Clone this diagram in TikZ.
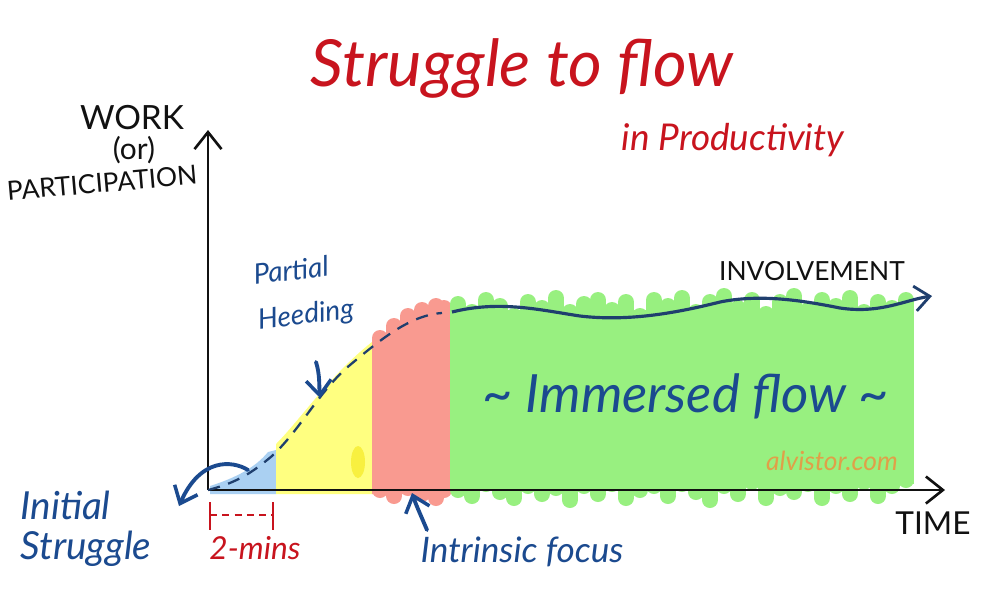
\documentclass[tikz,border=0pt]{standalone}
\usepackage{fontspec}
\setmainfont{Lato}
\usetikzlibrary{arrows.meta}
\definecolor{sgfInk}{HTML}{111111}
\definecolor{sgfNavy}{HTML}{1B4A8F}
\definecolor{sgfFlowLine}{HTML}{1F3F6E}
\definecolor{sgfRed}{HTML}{C8141E}
\definecolor{sgfOrange}{HTML}{E0A048}
\definecolor{sgfGreen}{HTML}{98F080}
\definecolor{sgfSalmon}{HTML}{F99A90}
\definecolor{sgfYellow}{HTML}{FFFF80}
\definecolor{sgfYellowDeep}{HTML}{F8F040}
\definecolor{sgfSky}{HTML}{AAD0F2}
\tikzset{
  sgfAxis/.style={
    draw=sgfInk,
    line width=1.6pt,
    -{Straight Barb[length=3.4mm,width=5.4mm,line width=1.5pt]}
  },
  sgfCaps/.style={
    text=sgfInk,
    font=\fontsize{15}{17}\selectfont
  },
  sgfNote/.style={
    text=sgfNavy,
    font=\itshape\fontsize{22}{23}\selectfont,
    align=left,
    inner sep=1pt
  },
  sgfRedText/.style={
    text=sgfRed,
    font=\itshape\fontsize{18}{20}\selectfont
  },
  sgfPoint/.style={
    draw=sgfNavy,
    line width=2.2pt,
    line cap=round,
    -{Straight Barb[length=3mm,width=5mm,line width=2pt]}
  },
  sgfDash/.style={
    draw=sgfFlowLine,
    line width=1.3pt,
    dash pattern=on 7pt off 5pt
  },
  sgfFlow/.style={
    draw=sgfFlowLine,
    line width=1.8pt,
    -{Straight Barb[length=3mm,width=5mm,line width=1.6pt]}
  },
  sgfMarker/.style={
    line width=0.32cm,
    line cap=round
  }
}
\begin{document}
\begin{tikzpicture}[x=0.02cm,y=-0.02cm]
\useasboundingbox[fill=white] (0,0) rectangle (1000,600);

% Title.
\node[text=sgfRed, font=\itshape\fontsize{37}{40}\selectfont] (title) at (522,68)
  {Struggle to flow};
\node[text=sgfRed, font=\itshape\fontsize{21}{24}\selectfont] (subtitle) at (733,140)
  {in Productivity};

% Coloured phases under the curve.
\fill[sgfSky] (210,494) -- (210,486) .. controls (235,478) and (255,468) .. (268,452)
  -- (276,450) -- (276,494) -- cycle;
\fill[sgfYellow] (276,494) -- (276,444) .. controls (300,420) and (330,375) .. (372,342)
  -- (374,494) -- cycle;
\fill[sgfYellowDeep] (358,462) ellipse (0.14cm and 0.32cm);
\fill[sgfSalmon] (372,494) -- (372,342) -- (448,306) -- (448,494) -- cycle;
\foreach \x/\t/\b in {380/338/490,394/326/496,408/316/488,422/310/494,436/306/498,444/308/490}
  \draw[sgfMarker, draw=sgfSalmon] (\x,\t) -- (\x,\b);
\fill[sgfGreen] (452,310) rectangle (914,484);
\foreach \x/\t/\b in {458/304/490,472/312/496,486/300/484,500/306/492,514/316/498,
    528/302/486,542/308/494,556/298/488,570/312/500,584/304/486,598/300/494,
    612/310/484,626/302/498,640/316/490,654/300/486,668/306/496,682/298/484,
    696/312/492,710/302/500,724/296/486,738/308/494,752/300/482,766/314/498,
    780/302/488,794/296/492,808/310/484,822/300/498,836/306/486,850/298/494,
    864/312/482,878/302/496,892/308/486,906/300/480}
  \draw[sgfMarker, draw=sgfGreen] (\x,\t) -- (\x,\b);

% Axes.
\coordinate (origin) at (208,490);
\coordinate (ytop) at (208,130);
\coordinate (xend) at (945,490);
\draw[sgfAxis] (origin) -- (ytop);
\draw[sgfAxis] (origin) -- (xend);

\node[sgfCaps, font=\fontsize{19}{21}\selectfont] (work) at (132,118) {WORK};
\node[sgfCaps, font=\fontsize{17}{19}\selectfont] (or) at (134,150) {(or)};
\node[sgfCaps, rotate=5] (participation) at (102,183) {PARTICIPATION};
\node[sgfCaps, font=\fontsize{18}{20}\selectfont] (time) at (933,523) {TIME};

% Effort curve.
\coordinate (heedTop) at (442,313);
\coordinate (flowStart) at (452,312);
\coordinate (involveEnd) at (932,296);
\draw[sgfDash] (origin) .. controls (240,482) and (255,470) .. (272,456)
  .. controls (300,430) and (320,390) .. (350,365)
  .. controls (380,340) and (410,315) .. (heedTop);
\draw[sgfFlow] (flowStart) .. controls (500,300) and (540,310) .. (580,316)
  .. controls (630,322) and (680,312) .. (720,302)
  .. controls (760,294) and (800,300) .. (840,308)
  .. controls (880,314) and (905,300) .. (involveEnd);
\node[sgfCaps] (involve) at (812,271) {INVOLVEMENT};

\node[text=sgfNavy, font=\itshape\fontsize{30}{32}\selectfont] (immersed) at (686,396)
  {\textasciitilde\ Immersed flow \textasciitilde};
\node[text=sgfOrange, font=\itshape\fontsize{15}{17}\selectfont] (site) at (832,461)
  {alvistor.com};

% Phase labels.
\node[sgfNote, font=\itshape\fontsize{16}{18}\selectfont, rotate=7] (partial) at (291,270)
  {Partial};
\node[sgfNote, font=\itshape\fontsize{16}{18}\selectfont, rotate=7] (heeding) at (306,316)
  {Heeding};
\coordinate (heedTail) at (316,362);
\coordinate (heedTip) at (320,398);
\draw[sgfPoint] (heedTail) .. controls (320,375) and (319,385) .. (heedTip);

\node[sgfNote] (initial) at (86,529) {Initial\\Struggle};
\coordinate (struggleTail) at (248,470);
\coordinate (struggleTip) at (179,506);
\draw[sgfPoint] (struggleTail) .. controls (232,460) and (200,458) .. (struggleTip);

\coordinate (minsL) at (210,515);
\coordinate (minsR) at (273,515);
\draw[draw=sgfRed, line width=1.6pt] (210,502) -- (210,530) (273,502) -- (273,530);
\draw[draw=sgfRed, line width=1.3pt, dash pattern=on 4pt off 3pt] (minsL) -- (minsR);
\node[sgfRedText] (mins) at (255,548) {2-mins};

\node[sgfNote, font=\itshape\fontsize{20}{22}\selectfont] (intrinsic) at (522,552)
  {Intrinsic focus};
\coordinate (focusTail) at (427,530);
\coordinate (focusTip) at (412,493);
\draw[sgfPoint] (focusTail) .. controls (422,518) and (416,505) .. (focusTip);

\end{tikzpicture}
\end{document}
